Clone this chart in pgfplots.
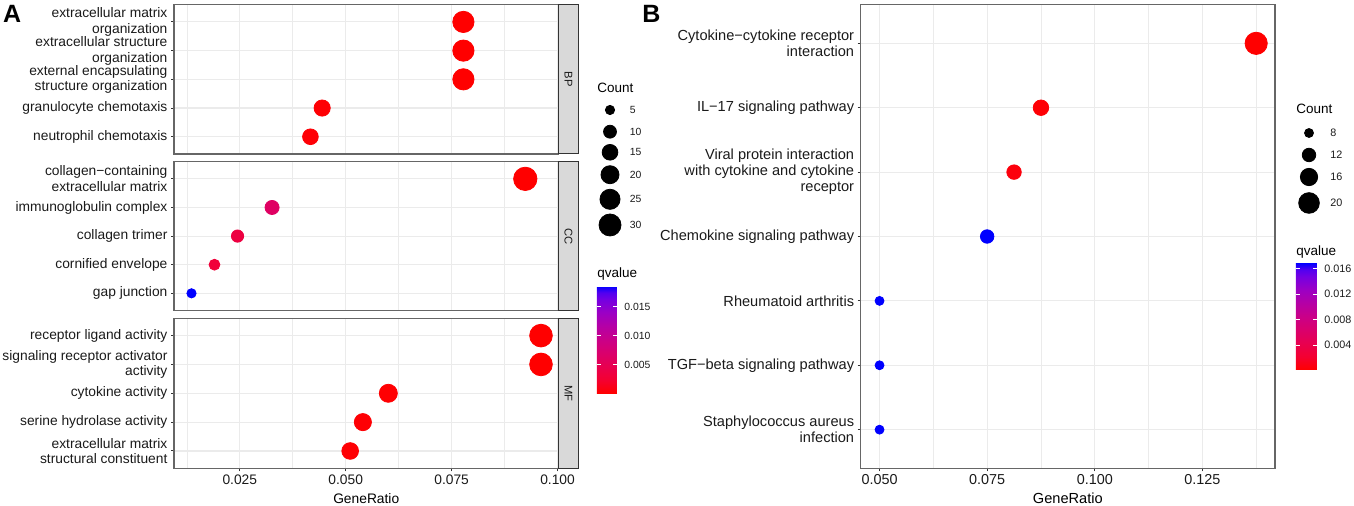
\documentclass[border=0pt]{standalone}
\usepackage{fontspec}
\setmainfont{Liberation Sans}
\usepackage{pgfplots}
\usepackage{pgfplotstable}
\pgfplotsset{compat=1.18}
\definecolor{gridc}{HTML}{EBEBEB}
\definecolor{framec}{HTML}{333333}
\definecolor{panelc}{HTML}{666666}
\definecolor{stripc}{HTML}{D9D9D9}
\definecolor{txtc}{HTML}{1A1A1A}

\pgfplotsset{colormap={qcol}{rgb255(0cm)=(255,0,0) rgb255(2cm)=(244,0,49) rgb255(4cm)=(232,0,79) rgb255(6cm)=(218,0,108) rgb255(8cm)=(202,0,136) rgb255(10cm)=(181,0,165) rgb255(12cm)=(156,0,196) rgb255(14cm)=(116,0,226) rgb255(15cm)=(83,0,240) rgb255(16cm)=(0,0,255)}}

\pgfplotsset{
 panel/.style={scale only axis, tick align=outside, major tick length=1.5pt, minor tick length=0pt,
   axis line style={panelc, line width=0.6pt}, tick style={framec, line width=0.5pt},
   xtick pos=bottom, ytick pos=left, xmajorgrids, xminorgrids, ymajorgrids,
   major grid style={gridc, line width=0.55pt}, minor grid style={gridc, line width=0.3pt},
   colormap name=qcol, /pgf/number format/assume math mode=true,
   tick label style={text=txtc}, yticklabel style={align=right, inner sep=0pt, xshift=-1.6pt},
   xticklabel style={inner sep=0pt, yshift=-1.5pt}, clip=false},
 dotA/.style={scatter, only marks, mark=*, point meta=\thisrow{q},
   visualization depends on={0.98*sqrt(\thisrow{count})+0.13 \as \rad},
   scatter/use mapped color={draw=mapped color, fill=mapped color},
   scatter/@pre marker code/.append style={/tikz/mark size=\rad}},
 dotB/.style={scatter, only marks, mark=*, point meta=\thisrow{q},
   visualization depends on={1.7825*sqrt(\thisrow{count})-2.8 \as \rad},
   scatter/use mapped color={draw=mapped color, fill=mapped color},
   scatter/@pre marker code/.append style={/tikz/mark size=\rad}},
 facetA/.style={panel, anchor=south west, width=192.25pt, xmin=0.00946, xmax=0.10023, ymin=0.4, ymax=5.6,
   xtick={0.025,0.05,0.075,0.1}, minor xtick={0.0125,0.0375,0.0625,0.0875}, ytick={1,2,3,4,5},
   yticklabel style={font=\fontsize{6.9}{7.85}\selectfont},
   xticklabel style={font=\fontsize{6.9}{8}\selectfont},
   point meta min=0, point meta max=0.0186},
 cbar/.style={scale only axis, axis line style={draw=none}, scaled y ticks=false,
    yticklabel pos=right, ytick pos=both, xtick=\empty,
    tick align=inside, major tick length=2.1pt, ytick style={white, line width=0.5pt},
    yticklabel style={inner sep=0pt, xshift=3.5pt, text=txtc}},
}

\pgfplotstableread{
y x count q
5 0.07778 28 0.000001
4 0.07778 28 0.000001
3 0.07778 28 0.000001
2 0.04444 16 0.0002
1 0.04167 15 0.0003
}\bpdata
\pgfplotstableread{
y x count q
5 0.09239 34 0.000001
4 0.03261 12 0.0062
3 0.02446 9 0.0036
2 0.01902 7 0.0030
1 0.01359 5 0.0186
}\ccdata
\pgfplotstableread{
y x count q
5 0.09610 32 0.000001
4 0.09610 32 0.000001
3 0.06006 20 0.0001
2 0.05405 18 0.0002
1 0.05105 17 0.0002
}\mfdata
\pgfplotstableread{
y x count q
7 0.1375 22 0.0001
6 0.0875 14 0.0003
5 0.08125 13 0.0006
4 0.075 12 0.0169
3 0.05 8 0.0169
2 0.05 8 0.0169
1 0.05 8 0.0169
}\keggdata
\pgfplotstableread{
x y c
610 110 5
610 131.7 10
610 152.3 15
610 174.7 20
610 199.3 25
610 225 30
}\legA
\pgfplotstableread{
x y c
1309 133 8
1309 155 12
1309 177 16
1309 203 20
}\legB

\begin{document}
\begin{tikzpicture}
\useasboundingbox (0,0) rectangle (677pt,253pt);

% ---------- Panel A : BP ----------
\begin{axis}[facetA, at={(87pt,176pt)}, height=74.65pt, xticklabels={}, xtick style={draw=none},
  yticklabels={neutrophil chemotaxis, granulocyte chemotaxis, {external encapsulating\\structure organization}, {extracellular structure\\organization}, {extracellular matrix\\organization}}]
\addplot[dotA] table[x=x,y=y] {\bpdata};
\end{axis}

% ---------- Panel A : CC ----------
\begin{axis}[facetA, at={(87pt,97.75pt)}, height=74.4pt, xticklabels={}, xtick style={draw=none},
  yticklabels={gap junction, cornified envelope, collagen trimer, immunoglobulin complex, {collagen−containing\\extracellular matrix}}]
\addplot[dotA] table[x=x,y=y] {\ccdata};
\end{axis}

% ---------- Panel A : MF ----------
\begin{axis}[facetA, at={(87pt,18.85pt)}, height=75pt,
  xticklabels={0.025,0.050,0.075,0.100},
  yticklabels={{extracellular matrix\\structural constituent}, serine hydrolase activity, cytokine activity, {signaling receptor activator\\activity}, receptor ligand activity},
  colorbar, colorbar style={cbar, at={(parent axis.south west)}, anchor=south west, xshift=202.95pt, yshift=37.5pt,
    width=10pt, height=53.65pt,
    ytick={0.005,0.01,0.015}, yticklabels={0.005,0.010,0.015},
    yticklabel style={font=\fontsize{5.2}{6}\selectfont}}]
\addplot[dotA] table[x=x,y=y] {\mfdata};
\node[font=\fontsize{6.9}{8}\selectfont, anchor=center] at (rel axis cs:0.5,0) [yshift=-15pt] {GeneRatio};
\end{axis}

% ---------- Panel B ----------
\begin{axis}[panel, at={(430.35pt,18.85pt)}, anchor=south west, width=207.15pt, height=231.8pt,
  xmin=0.045625, xmax=0.141875, ymin=0.4, ymax=7.6,
  xtick={0.05,0.075,0.1,0.125}, minor xtick={0.0625,0.0875,0.1125,0.1375},
  xticklabels={0.050,0.075,0.100,0.125}, ytick={1,...,7},
  yticklabels={{Staphylococcus aureus\\infection}, TGF−beta signaling pathway, Rheumatoid arthritis, Chemokine signaling pathway, {Viral protein interaction\\with cytokine and cytokine\\receptor}, IL−17 signaling pathway, {Cytokine−cytokine receptor\\interaction}},
  yticklabel style={font=\fontsize{7.3}{8}\selectfont},
  xticklabel style={font=\fontsize{7.2}{8}\selectfont},
  point meta min=0.0001, point meta max=0.0169,
  colorbar, colorbar style={cbar, at={(parent axis.south west)}, anchor=south west, xshift=209.1pt, yshift=49.15pt,
    width=10.5pt, height=53.5pt,
    ytick={0.004,0.008,0.012,0.016}, yticklabels={0.004,0.008,0.012,0.016},
    yticklabel style={font=\fontsize{5.4}{6}\selectfont}}]
\addplot[dotB] table[x=x,y=y] {\keggdata};
\node[font=\fontsize{7.3}{8}\selectfont, anchor=center] at (rel axis cs:0.5,0) [yshift=-15pt] {GeneRatio};
\end{axis}

% ---------- overlay: strips, legends, panel letters ----------
\begin{axis}[at={(0pt,0pt)}, anchor=south west, scale only axis, width=677pt, height=253pt,
  xmin=0, xmax=1354, ymin=0, ymax=506, y dir=reverse, hide axis, clip=false]
\draw[fill=stripc, draw=framec, line width=0.5pt] (axis cs:558.5,4.7) rectangle (axis cs:578.3,154);
\draw[fill=stripc, draw=framec, line width=0.5pt] (axis cs:558.5,161.7) rectangle (axis cs:578.3,310.5);
\draw[fill=stripc, draw=framec, line width=0.5pt] (axis cs:558.5,318.3) rectangle (axis cs:578.3,468.3);
\node[rotate=-90, font=\fontsize{5.6}{6}\selectfont, text=txtc] at (axis cs:568.4,79.35) {BP};
\node[rotate=-90, font=\fontsize{5.6}{6}\selectfont, text=txtc] at (axis cs:568.4,236.1) {CC};
\node[rotate=-90, font=\fontsize{5.6}{6}\selectfont, text=txtc] at (axis cs:568.4,393.3) {MF};

\node[anchor=base west, inner sep=0pt, font=\fontsize{12.5}{14}\selectfont\bfseries] at (axis cs:2.7,23) {A};
\node[anchor=base west, inner sep=0pt, font=\fontsize{12.5}{14}\selectfont\bfseries] at (axis cs:642,23) {B};

\node[anchor=west, inner sep=0pt, font=\fontsize{6.75}{8}\selectfont] at (axis cs:597,88) {Count};
\node[anchor=west, inner sep=0pt, font=\fontsize{6.75}{8}\selectfont] at (axis cs:597,273.8) {qvalue};
\node[anchor=west, inner sep=0pt, font=\fontsize{6.75}{8}\selectfont] at (axis cs:1296,109) {Count};
\node[anchor=west, inner sep=0pt, font=\fontsize{6.75}{8}\selectfont] at (axis cs:1296,251.7) {qvalue};

% size legend A: circles, then labels
\addplot[scatter, only marks, mark=*, point meta=\thisrow{c},
  visualization depends on={0.98*sqrt(\thisrow{c})+0.13 \as \rad},
  scatter/use mapped color={draw=black, fill=black},
  scatter/@pre marker code/.append style={/tikz/mark size=\rad}]
  table[x=x,y=y] {\legA};
\addplot[only marks, mark=none, point meta=\thisrow{c},
  nodes near coords={\pgfmathprintnumber[assume math mode=true]{\pgfplotspointmeta}},
  nodes near coords style={anchor=west, inner sep=0pt, xshift=9.75pt, font=\fontsize{5.2}{6}\selectfont, text=txtc}]
  table[x=x,y=y] {\legA};
% size legend B
\addplot[scatter, only marks, mark=*, point meta=\thisrow{c},
  visualization depends on={1.7825*sqrt(\thisrow{c})-2.8 \as \rad},
  scatter/use mapped color={draw=black, fill=black},
  scatter/@pre marker code/.append style={/tikz/mark size=\rad}]
  table[x=x,y=y] {\legB};
\addplot[only marks, mark=none, point meta=\thisrow{c},
  nodes near coords={\pgfmathprintnumber[assume math mode=true]{\pgfplotspointmeta}},
  nodes near coords style={anchor=west, inner sep=0pt, xshift=10.5pt, font=\fontsize{5.4}{6}\selectfont, text=txtc}]
  table[x=x,y=y] {\legB};
\end{axis}
\end{tikzpicture}
\end{document}
